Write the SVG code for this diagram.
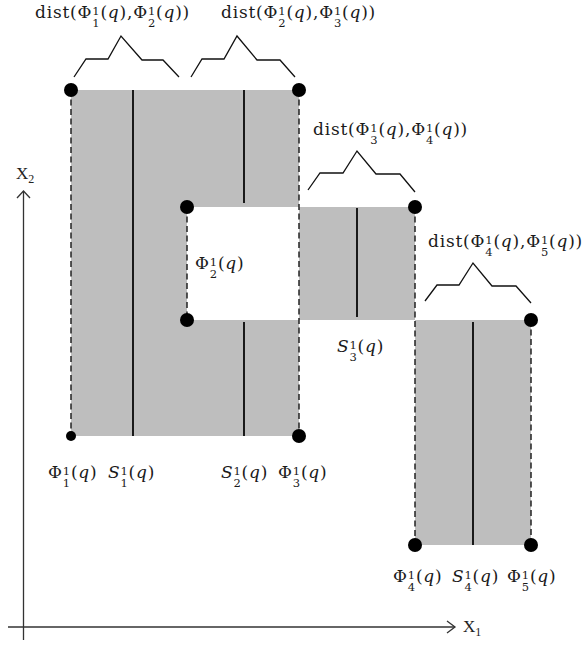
<svg xmlns="http://www.w3.org/2000/svg" width="586" height="646" viewBox="0 0 586 646">
<style>
.t{font-family:"DejaVu Serif","Liberation Serif",serif;font-size:17px;fill:#1a1a1a;letter-spacing:0.8px}
.sc{font-size:11.5px}
.i{font-style:italic}
.ax{font-family:"Liberation Serif",serif;font-size:17px;fill:#222}
.axs{font-size:12px}
.region{fill:#bebebe;stroke:none}
.dash{stroke:#222;stroke-width:1.5;stroke-dasharray:6 3.5;fill:none}
.solid{stroke:#111;stroke-width:1.9;fill:none}
.brace{stroke:#111;stroke-width:1.3;fill:none;stroke-linejoin:miter}
.dot{fill:#000}
.axis{stroke:#333;stroke-width:1.3;fill:none}
</style>
<rect width="586" height="646" fill="#fff"/>
<g id="regions">
<path class="region" d="M71 90H299V207H187V320H299V436H71Z"/>
<rect class="region" x="299" y="207" width="116" height="113"/>
<rect class="region" x="415" y="320" width="116" height="225"/>
</g>
<g id="connectors">
<line class="dash" x1="71" y1="90" x2="71" y2="436"/>
<line class="dash" x1="187" y1="207" x2="187" y2="320"/>
<line class="dash" x1="299" y1="90" x2="299" y2="436"/>
<line class="dash" x1="415" y1="207" x2="415" y2="545"/>
<line class="dash" x1="531" y1="320" x2="531" y2="545"/>
<line class="solid" x1="133" y1="90" x2="133" y2="436"/>
<line class="solid" x1="244" y1="90" x2="244" y2="203"/>
<line class="solid" x1="244" y1="322" x2="244" y2="436"/>
<line class="solid" x1="357" y1="208" x2="357" y2="317"/>
<line class="solid" x1="473" y1="322" x2="473" y2="545"/>
<polyline class="brace" points="74,77 86,59 108,59 121,36 142,60 163,60 179,77"/>
<polyline class="brace" points="191,77 202,59 224,59 237,36 257,60 280,60 295,77"/>
<polyline class="brace" points="308,190 320,173 343,173 357,151 376,174 400,174 415,192"/>
<polyline class="brace" points="425,301 437,285 459,285 473,263 492,286 516,286 531,303"/>
</g>
<g id="axes">
<line class="axis" x1="23.5" y1="191" x2="23.5" y2="640"/>
<polyline class="axis" points="17,198 23.5,191 30,198"/>
<line class="axis" x1="8" y1="627" x2="455" y2="627"/>
<polyline class="axis" points="447,621 455,627 447,633"/>
<text class="ax" x="16" y="179">X<tspan class="axs" dy="4">2</tspan></text>
<text class="ax" x="463" y="632">X<tspan class="axs" dy="4">1</tspan></text>
</g>
<g id="p1"><circle class="dot" cx="71" cy="90" r="7"/></g>
<g id="p2"><circle class="dot" cx="299" cy="90" r="7"/></g>
<g id="p3"><circle class="dot" cx="187" cy="207" r="7"/></g>
<g id="p4"><circle class="dot" cx="187" cy="320" r="7"/></g>
<g id="p5"><circle class="dot" cx="415" cy="207" r="7"/></g>
<g id="p6"><circle class="dot" cx="531" cy="320" r="7"/></g>
<g id="p7"><circle class="dot" cx="71" cy="436" r="5"/></g>
<g id="p8"><circle class="dot" cx="299" cy="436" r="7"/></g>
<g id="p9"><circle class="dot" cx="415" cy="545" r="7"/></g>
<g id="p10"><circle class="dot" cx="531" cy="545" r="7"/></g>
<g id="labels">
<text class="t" x="35" y="18">dist(Φ<tspan class="sc" dy="-3">1</tspan><tspan class="sc" dx="-8.1" dy="11.5">1</tspan><tspan dy="-8.5">(</tspan><tspan class="i">q</tspan>),Φ<tspan class="sc" dy="-3">1</tspan><tspan class="sc" dx="-8.1" dy="11.5">2</tspan><tspan dy="-8.5">(</tspan><tspan class="i">q</tspan>))</text>
<text class="t" x="221" y="18">dist(Φ<tspan class="sc" dy="-3">1</tspan><tspan class="sc" dx="-8.1" dy="11.5">2</tspan><tspan dy="-8.5">(</tspan><tspan class="i">q</tspan>),Φ<tspan class="sc" dy="-3">1</tspan><tspan class="sc" dx="-8.1" dy="11.5">3</tspan><tspan dy="-8.5">(</tspan><tspan class="i">q</tspan>))</text>
<text class="t" x="313" y="135">dist(Φ<tspan class="sc" dy="-3">1</tspan><tspan class="sc" dx="-8.1" dy="11.5">3</tspan><tspan dy="-8.5">(</tspan><tspan class="i">q</tspan>),Φ<tspan class="sc" dy="-3">1</tspan><tspan class="sc" dx="-8.1" dy="11.5">4</tspan><tspan dy="-8.5">(</tspan><tspan class="i">q</tspan>))</text>
<text class="t" x="428" y="247">dist(Φ<tspan class="sc" dy="-3">1</tspan><tspan class="sc" dx="-8.1" dy="11.5">4</tspan><tspan dy="-8.5">(</tspan><tspan class="i">q</tspan>),Φ<tspan class="sc" dy="-3">1</tspan><tspan class="sc" dx="-8.1" dy="11.5">5</tspan><tspan dy="-8.5">(</tspan><tspan class="i">q</tspan>))</text>
<text class="t" x="195" y="269">Φ<tspan class="sc" dy="-3">1</tspan><tspan class="sc" dx="-8.1" dy="11.5">2</tspan><tspan dy="-8.5">(</tspan><tspan class="i">q</tspan>)</text>
<text class="t" x="337" y="352"><tspan class="i">S</tspan><tspan class="sc" dy="-3">1</tspan><tspan class="sc" dx="-8.1" dy="11.5">3</tspan><tspan dy="-8.5">(</tspan><tspan class="i">q</tspan>)</text>
<text class="t" x="48" y="478">Φ<tspan class="sc" dy="-3">1</tspan><tspan class="sc" dx="-8.1" dy="11.5">1</tspan><tspan dy="-8.5">(</tspan><tspan class="i">q</tspan>)</text>
<text class="t" x="108" y="478"><tspan class="i">S</tspan><tspan class="sc" dy="-3">1</tspan><tspan class="sc" dx="-8.1" dy="11.5">1</tspan><tspan dy="-8.5">(</tspan><tspan class="i">q</tspan>)</text>
<text class="t" x="221" y="478"><tspan class="i">S</tspan><tspan class="sc" dy="-3">1</tspan><tspan class="sc" dx="-8.1" dy="11.5">2</tspan><tspan dy="-8.5">(</tspan><tspan class="i">q</tspan>)</text>
<text class="t" x="278" y="478">Φ<tspan class="sc" dy="-3">1</tspan><tspan class="sc" dx="-8.1" dy="11.5">3</tspan><tspan dy="-8.5">(</tspan><tspan class="i">q</tspan>)</text>
<text class="t" x="393" y="582">Φ<tspan class="sc" dy="-3">1</tspan><tspan class="sc" dx="-8.1" dy="11.5">4</tspan><tspan dy="-8.5">(</tspan><tspan class="i">q</tspan>)</text>
<text class="t" x="452" y="582"><tspan class="i">S</tspan><tspan class="sc" dy="-3">1</tspan><tspan class="sc" dx="-8.1" dy="11.5">4</tspan><tspan dy="-8.5">(</tspan><tspan class="i">q</tspan>)</text>
<text class="t" x="507" y="582">Φ<tspan class="sc" dy="-3">1</tspan><tspan class="sc" dx="-8.1" dy="11.5">5</tspan><tspan dy="-8.5">(</tspan><tspan class="i">q</tspan>)</text>
</g>
</svg>
